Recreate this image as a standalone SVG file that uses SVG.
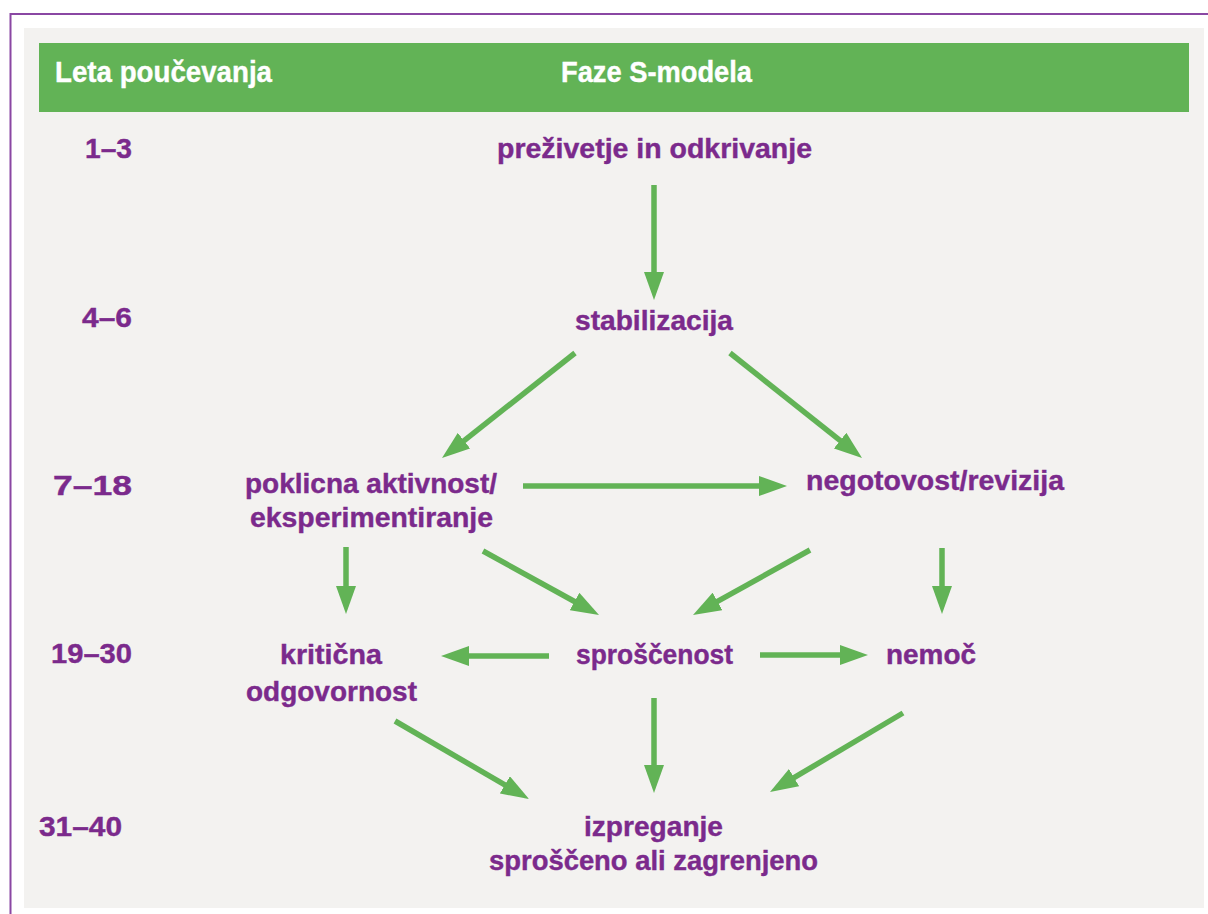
<svg xmlns="http://www.w3.org/2000/svg" width="1208" height="914" viewBox="0 0 1208 914">
  <style>
    .hdr { font-family: "Liberation Sans", Arial, sans-serif; font-weight: bold; font-size: 30px; fill: #ffffff; stroke: #ffffff; stroke-width: 0.4; }
    .lbl { font-family: "Liberation Sans", Arial, sans-serif; font-weight: bold; font-size: 28.5px; fill: #7b2a8c; stroke: #7b2a8c; stroke-width: 0.4; }
    .yr  { font-family: "Liberation Sans", Arial, sans-serif; font-weight: bold; font-size: 28.5px; fill: #7b2a8c; stroke: #7b2a8c; stroke-width: 0.4; }
    .arr { stroke: #62b356; stroke-width: 5.5; fill: none; marker-end: url(#head); }
  </style>
  <defs>
    <marker id="head" markerUnits="userSpaceOnUse" markerWidth="28" markerHeight="20" refX="1" refY="10" orient="auto" viewBox="0 0 28 20">
      <path d="M0,0 L28,10 L0,20 Z" fill="#62b356"/>
    </marker>
  </defs>

  <!-- page frame -->
  <rect x="0" y="0" width="1208" height="914" fill="#ffffff"/>
  <path d="M10.5,914 V14 H1208" fill="none" stroke="#8a47a3" stroke-width="2"/>
  <rect x="24" y="28" width="1180" height="880" fill="#f3f2f0"/>

  <!-- header band -->
  <g id="header">
    <rect x="39" y="43" width="1150" height="69" fill="#62b356"/>
    <text class="hdr" x="55" y="82" textLength="217" lengthAdjust="spacingAndGlyphs">Leta poučevanja</text>
    <text class="hdr" x="561" y="82" textLength="191" lengthAdjust="spacingAndGlyphs">Faze S-modela</text>
  </g>

  <!-- years column -->
  <g id="years">
    <text class="yr" x="85" y="158" textLength="47" lengthAdjust="spacingAndGlyphs">1–3</text>
    <text class="yr" x="82" y="327" textLength="50" lengthAdjust="spacingAndGlyphs">4–6</text>
    <text class="yr" x="53" y="495" textLength="79" lengthAdjust="spacingAndGlyphs">7–18</text>
    <text class="yr" x="51" y="663" textLength="81" lengthAdjust="spacingAndGlyphs">19–30</text>
    <text class="yr" x="39" y="836" textLength="83" lengthAdjust="spacingAndGlyphs">31–40</text>
  </g>

  <!-- phases -->
  <g id="n-prezivetje">
    <text class="lbl" x="497" y="158" textLength="315" lengthAdjust="spacingAndGlyphs">preživetje in odkrivanje</text>
  </g>
  <g id="n-stabilizacija">
    <text class="lbl" x="575" y="330" textLength="158" lengthAdjust="spacingAndGlyphs">stabilizacija</text>
  </g>
  <g id="n-poklicna">
    <text class="lbl" x="245" y="493" textLength="252" lengthAdjust="spacingAndGlyphs">poklicna aktivnost/</text>
    <text class="lbl" x="250" y="527" textLength="243" lengthAdjust="spacingAndGlyphs">eksperimentiranje</text>
  </g>
  <g id="n-negotovost">
    <text class="lbl" x="806" y="490" textLength="258" lengthAdjust="spacingAndGlyphs">negotovost/revizija</text>
  </g>
  <g id="n-kriticna">
    <text class="lbl" x="280" y="664" textLength="102" lengthAdjust="spacingAndGlyphs">kritična</text>
    <text class="lbl" x="246" y="701" textLength="171" lengthAdjust="spacingAndGlyphs">odgovornost</text>
  </g>
  <g id="n-sproscenost">
    <text class="lbl" x="576" y="664" textLength="157" lengthAdjust="spacingAndGlyphs">sproščenost</text>
  </g>
  <g id="n-nemoc">
    <text class="lbl" x="886" y="664" textLength="90" lengthAdjust="spacingAndGlyphs">nemoč</text>
  </g>
  <g id="n-izpreganje">
    <text class="lbl" x="584" y="836" textLength="139" lengthAdjust="spacingAndGlyphs">izpreganje</text>
    <text class="lbl" x="489" y="870" textLength="329" lengthAdjust="spacingAndGlyphs">sproščeno ali zagrenjeno</text>
  </g>

  <!-- connectors -->
  <g id="connectors">
    <line class="arr" x1="654" y1="185" x2="654" y2="273"/>
    <line class="arr" x1="575" y1="353" x2="463.2" y2="441.3"/>
    <line class="arr" x1="730" y1="353" x2="840.9" y2="441.2"/>
    <line class="arr" x1="523" y1="486" x2="760" y2="486"/>
    <line class="arr" x1="346" y1="547" x2="346" y2="587"/>
    <line class="arr" x1="483" y1="551" x2="575.4" y2="602"/>
    <line class="arr" x1="810" y1="550" x2="716.6" y2="601.9"/>
    <line class="arr" x1="942" y1="548" x2="942" y2="587"/>
    <line class="arr" x1="549" y1="656" x2="468" y2="656"/>
    <line class="arr" x1="760" y1="655" x2="841" y2="655"/>
    <line class="arr" x1="395" y1="721" x2="505.7" y2="785.4"/>
    <line class="arr" x1="654" y1="698" x2="654" y2="766"/>
    <line class="arr" x1="903" y1="713" x2="793.2" y2="778.2"/>
  </g>
</svg>
